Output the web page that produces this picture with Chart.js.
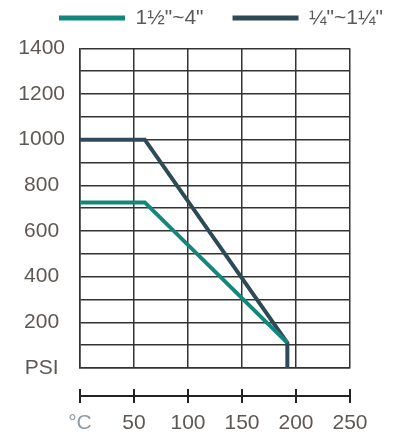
<!DOCTYPE html>
<html>
<head>
<meta charset="utf-8">
<script src="https://cdn.jsdelivr.net/npm/chart.js@4"></script>
<style>
  html, body { margin: 0; padding: 0; background: #fff; }
  #wrap { width: 402px; height: 443px; position: relative; }
</style>
</head>
<body>
<div id="wrap"><canvas id="c"></canvas></div>
<script>
// ---- data ----
const seriesNames = ['1½"~4"', '¼"~1¼"'];
const tempLarge = [0, 60, 192];
const psiLarge = [725, 725, 110];
const tempSmall = [0, 60, 192, 192];
const psiSmall = [1000, 1000, 110, 0];
const psiTickValues = [0, 200, 400, 600, 800, 1000, 1200, 1400];
const psiTickLabels = ['PSI', '200', '400', '600', '800', '1000', '1200', '1400'];
const tempTickValues = [0, 50, 100, 150, 200, 250];
const tempTickLabels = ['°C', '50', '100', '150', '200', '250'];

const TEAL = '#13877b';
const DARK = '#2e4a56';
const GRID = '#333333';
const LABEL = '#5e5853';

Chart.defaults.font.family = '"Liberation Sans", Arial, sans-serif';

const toPoints = (xs, ys) => xs.map((x, i) => ({ x: x, y: ys[i] }));

// legend height fix + lower axis line
const layoutHelper = {
  id: 'layoutHelper',
  afterInit(chart) {
    const lg = chart.legend;
    if (lg) {
      const orig = lg.fit;
      lg.fit = function () { orig.call(this); this.height = 69.8; };
    }
  },
  afterDraw(chart) {
    const s = chart.scales.x2;
    const ctx = chart.ctx;
    const y = s.top + 7;
    ctx.save();
    ctx.strokeStyle = '#222';
    ctx.lineWidth = 2;
    ctx.beginPath();
    ctx.moveTo(s.getPixelForValue(tempTickValues[0]), y);
    ctx.lineTo(s.getPixelForValue(tempTickValues[tempTickValues.length - 1]), y);
    ctx.stroke();
    ctx.restore();
  }
};

new Chart(document.getElementById('c'), {
  type: 'line',
  data: {
    datasets: [
      { label: seriesNames[0], data: toPoints(tempLarge, psiLarge), borderColor: TEAL, backgroundColor: TEAL,
        borderWidth: 4, pointRadius: 0, tension: 0, xAxisID: 'x', yAxisID: 'y' },
      { label: seriesNames[1], data: toPoints(tempSmall, psiSmall), borderColor: DARK, backgroundColor: DARK,
        borderWidth: 4, pointRadius: 0, tension: 0, xAxisID: 'x', yAxisID: 'y' }
    ]
  },
  options: {
    responsive: true,
    maintainAspectRatio: false,
    animation: false,
    layout: { padding: { top: -21.5, left: 0, right: -39.9, bottom: 0 } },
    plugins: {
      tooltip: { enabled: false },
      legend: {
        position: 'top',
        align: 'center',
        labels: {
          boxWidth: 66,
          boxHeight: 5,
          padding: 29,
          color: '#595959',
          font: { size: 21 },
          generateLabels(chart) {
            return Chart.defaults.plugins.legend.labels.generateLabels(chart)
              .map(l => Object.assign({}, l, { lineWidth: 0, fillStyle: l.strokeStyle }));
          }
        }
      }
    },
    scales: {
      x: {
        type: 'linear',
        position: 'bottom',
        min: 0, max: 250,
        grid: { color: GRID, lineWidth: 1.5, drawTicks: true, tickLength: 21, tickColor: 'rgba(0,0,0,0)' },
        border: { color: GRID, width: 1.5 },
        ticks: { display: false, stepSize: 50 }
      },
      x2: {
        type: 'linear',
        position: 'bottom',
        min: 0, max: 250,
        afterBuildTicks(s) { s.ticks = tempTickValues.map(v => ({ value: v })); },
        grid: { drawOnChartArea: false, drawTicks: true, tickLength: 14, color: '#222', lineWidth: 2 },
        border: { display: false },
        ticks: {
          autoSkip: false,
          maxRotation: 0,
          padding: 9.5,
          font: { size: 21, lineHeight: 1 },
          color: (ctx) => ctx.index === 0 ? '#8e9aa6' : LABEL,
          callback: (v) => { const i = tempTickValues.indexOf(v); return i >= 0 ? tempTickLabels[i] : ''; }
        }
      },
      y: {
        type: 'linear',
        position: 'left',
        min: 0, max: 1400,
        afterFit(s) { s.width = 80; },
        grid: { color: GRID, lineWidth: 1.5, drawTicks: false },
        border: { color: GRID, width: 1.5 },
        ticks: {
          stepSize: 100,
          autoSkip: false,
          padding: 15,
          crossAlign: 'center',
          color: LABEL,
          font: { size: 21 },
          callback: (v) => { const i = psiTickValues.indexOf(v); return i >= 0 ? psiTickLabels[i] : ''; }
        }
      },
      yR: {
        type: 'linear',
        position: 'right',
        display: true,
        afterFit(s) { s.width = 91.9; },
        grid: { display: false, drawOnChartArea: false },
        border: { display: false },
        ticks: { display: false }
      }
    }
  },
  plugins: [layoutHelper]
});
</script>
</body>
</html>
